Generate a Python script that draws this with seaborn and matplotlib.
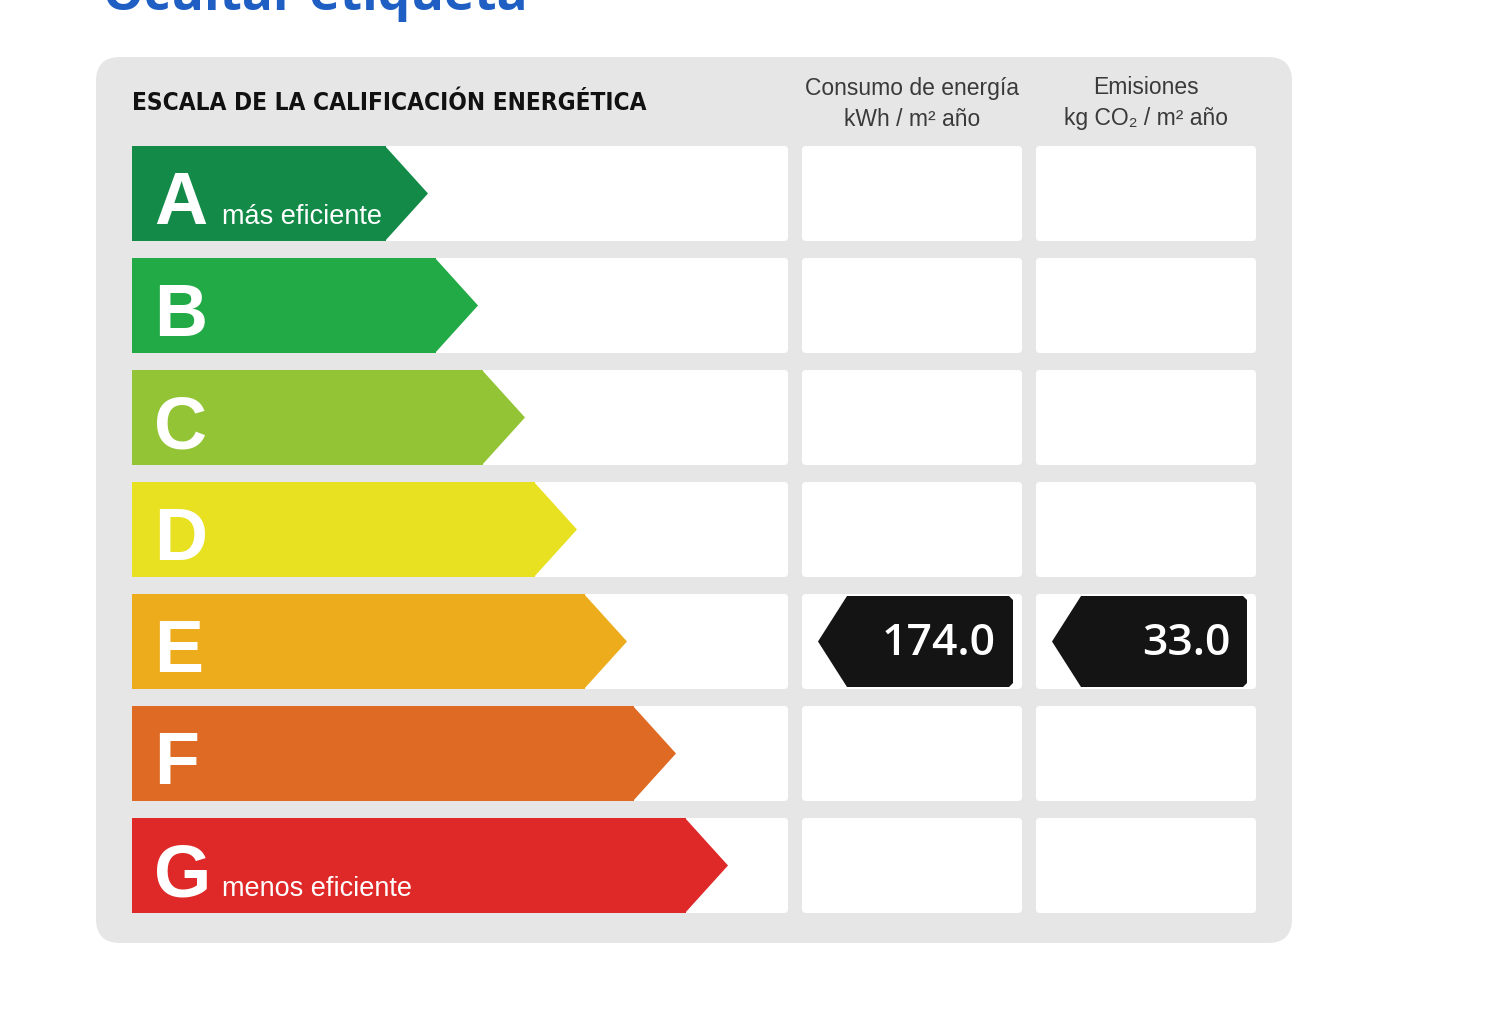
import numpy as np
import pandas as pd
import seaborn as sns
import matplotlib.pyplot as plt
from matplotlib.patches import FancyBboxPatch, Polygon

# energy rating scale
clases = ["A", "B", "C", "D", "E", "F", "G"]
colores = ["#138a48", "#22aa46", "#93c435", "#e7e122", "#edac1b", "#df6a24", "#df2828"]
largo_flecha = [296, 346, 393, 445, 495, 544, 596]  # arrow length for each class
textos_extremos = {"A": "más eficiente", "G": "menos eficiente"}

# building result
clase_edificio = "E"
consumo = 174.0    # kWh / m2 año
emisiones = 33.0   # kg CO2 / m2 año

# layout (pixel units of the 1500x1020 canvas)
X0 = 132
PUNTA = 42
FILA0 = 194.5
PASO = 112
ALTO = 95
celdas = [(802, 1022), (1036, 1256)]

sns.set_theme(style="white")
fam = ["Liberation Sans", "DejaVu Sans"]

fig = plt.figure(figsize=(15, 10.2), dpi=100)
ax = fig.add_axes([0, 0, 1, 1])

df = pd.DataFrame({"clase": clases,
                   "cuerpo": np.array(largo_flecha) - PUNTA,
                   "y": FILA0 + PASO * np.arange(len(clases))})

# grey panel
r = 24
ax.add_patch(FancyBboxPatch((96 + r, 58 + r), 1196 - 2 * r, 886 - 2 * r,
                            boxstyle=f"round,pad={r}", fc="#e6e6e6", ec="none", zorder=0))

# white row backgrounds and value cells
for yc in df["y"]:
    top = yc - ALTO / 2
    for (a, b) in [(X0, 788)] + celdas:
        ax.add_patch(FancyBboxPatch((a + 4, top + 4), b - a - 8, ALTO - 8,
                                    boxstyle="round,pad=4", fc="white", ec="none", zorder=1))

# arrow bodies
sns.barplot(data=df, x="cuerpo", y="y", hue="clase", palette=colores, orient="h",
            native_scale=True, dodge=False, width=ALTO / PASO, left=X0, linewidth=0,
            saturation=1, errorbar=None, legend=False, ax=ax, zorder=3)

# arrow tips and letters
for (_, fila), largo, col in zip(df.iterrows(), largo_flecha, colores):
    yc = fila["y"]
    xb = X0 + fila["cuerpo"]
    ax.add_patch(Polygon([(xb - 1, yc - ALTO / 2), (X0 + largo, yc), (xb - 1, yc + ALTO / 2)],
                         closed=True, fc=col, ec="none", zorder=3))
    ax.text(X0 + 22, yc + 30, fila["clase"], color="white", fontsize=53, fontweight="bold",
            family=fam, va="baseline", ha="left", zorder=4)
    if fila["clase"] in textos_extremos:
        ax.text(X0 + 90, yc + 30, textos_extremos[fila["clase"]], color="white", fontsize=19.5,
                family=fam, va="baseline", ha="left", zorder=4)

# value tags
yc = df.loc[df["clase"] == clase_edificio, "y"].iloc[0]
h = 91
for (a, b), valor in zip(celdas, [consumo, emisiones]):
    xr = b - 9
    xt = a + 16
    ax.add_patch(Polygon([(xt, yc), (xt + 29, yc - h / 2), (xr - 4, yc - h / 2),
                          (xr, yc - h / 2 + 4), (xr, yc + h / 2 - 4), (xr - 4, yc + h / 2),
                          (xt + 29, yc + h / 2)],
                         closed=True, fc="#141414", ec="none", zorder=5))
    ax.text(xr - 17, yc + 1, f"{valor:.1f}", color="white", fontsize=32, fontweight="semibold",
            family=["Open Sans", "DejaVu Sans"], ha="right", va="center", zorder=6)

# headers
ax.text(X0, 103, "ESCALA DE LA CALIFICACIÓN ENERGÉTICA", fontsize=17.5, fontweight="bold",
        fontstretch="condensed", family=["DejaVu Sans"],
        color="#111111", ha="left", va="center")
cab = [("Consumo de energía", "kWh / m² año"), ("Emisiones", "kg CO₂ / m² año")]
for (a, b), (l1, l2) in zip(celdas, cab):
    xc = (a + b) / 2
    ax.text(xc, 88, l1, fontsize=16.5, family=fam, color="#3a3a3a", ha="center", va="center")
    ax.text(xc, 119, l2, fontsize=16.5, family=fam, color="#3a3a3a", ha="center", va="center")

# cropped link text at the very top
ax.text(103, 10, "Ocultar etiqueta", fontsize=37, fontweight="bold",
        family=["Open Sans", "DejaVu Sans"], color="#1f5fc4", ha="left", va="baseline")

ax.set_xlim(0, 1500)
ax.set_ylim(1020, 0)
ax.set_axis_off()

fig.savefig("out.png", dpi=100, facecolor="white")
